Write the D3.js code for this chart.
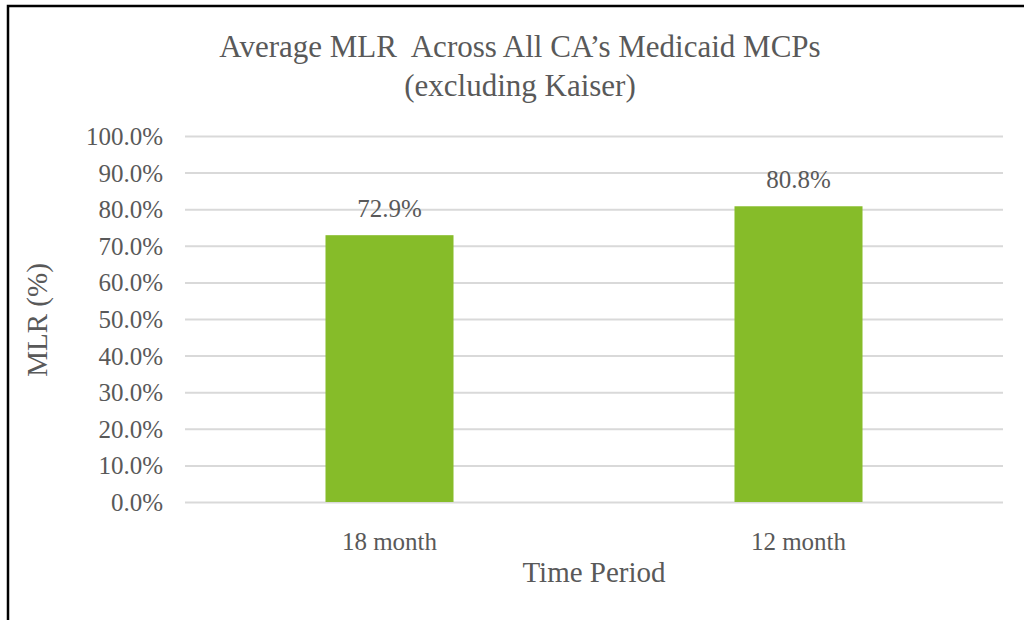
<!DOCTYPE html>
<html>
<head>
<meta charset="utf-8">
<script src="https://cdn.jsdelivr.net/npm/d3@7"></script>
<style>
  body { margin: 0; background: #fff; }
  text { font-family: "Liberation Serif", "Times New Roman", serif; fill: #595959; }
</style>
</head>
<body>
<div id="chart"></div>
<script>
var categories = ['18 month', '12 month']
var mlrValues = [72.9, 80.8]
var yTicks = [0, 10, 20, 30, 40, 50, 60, 70, 80, 90, 100]

var width = 1024,
    height = 620,
    margin = {top: 136, right: 21, bottom: 118, left: 185}

var svg = d3.select('#chart')
  .append('svg')
  .attr('width', width)
  .attr('height', height)

// outer frame (cut at right and bottom like the source)
svg.append('path')
  .attr('d', 'M8,' + height + 'V6H' + width)
  .attr('fill', 'none')
  .attr('stroke', '#000')
  .attr('stroke-width', 2.5)

var xScale = d3.scaleBand()
  .domain(categories)
  .range([margin.left, width - margin.right])
  .padding(0)

var yScale = d3.scaleLinear()
  .domain([0, 100])
  .range([height - margin.bottom, margin.top])

var barWidth = xScale.bandwidth() * 0.313

var yAxis = d3.axisLeft(yScale)
  .tickValues(yTicks)
  .tickSize(-(width - margin.left - margin.right))
  .tickPadding(22)
  .tickFormat(d => d.toFixed(1) + '%')

var gy = svg.append('g')
  .attr('transform', 'translate(' + margin.left + ',0)')
  .call(yAxis)
gy.select('.domain').remove()
gy.selectAll('line').attr('stroke', '#d9d9d9').attr('stroke-width', 2)
gy.selectAll('text')
  .style('font-size', '25px')
  .attr('dy', '0.34em')

svg.selectAll('.bar')
  .data(mlrValues)
  .enter()
  .append('rect')
  .attr('class', 'bar')
  .attr('x', (d, i) => xScale(categories[i]) + xScale.bandwidth() / 2 - barWidth / 2)
  .attr('y', d => yScale(d))
  .attr('width', barWidth)
  .attr('height', d => yScale(0) - yScale(d))
  .attr('fill', '#86bc29')

svg.selectAll('.label')
  .data(mlrValues)
  .enter()
  .append('text')
  .attr('class', 'label')
  .attr('x', (d, i) => xScale(categories[i]) + xScale.bandwidth() / 2)
  .attr('y', d => yScale(d) - 18)
  .attr('text-anchor', 'middle')
  .style('font-size', '25px')
  .text(d => d.toFixed(1) + '%')

var xAxis = d3.axisBottom(xScale).tickSize(0).tickPadding(30)
var gx = svg.append('g')
  .attr('transform', 'translate(0,' + (height - margin.bottom) + ')')
  .call(xAxis)
gx.select('.domain').remove()
gx.selectAll('text').style('font-size', '25px')

svg.append('text')
  .attr('x', 520)
  .attr('y', 57)
  .attr('text-anchor', 'middle')
  .style('font-size', '31px')
  .text('Average MLR\u00a0 Across All CA’s Medicaid MCPs')

svg.append('text')
  .attr('x', 520)
  .attr('y', 96)
  .attr('text-anchor', 'middle')
  .style('font-size', '31px')
  .text('(excluding Kaiser)')

svg.append('text')
  .attr('x', (margin.left + width - margin.right) / 2)
  .attr('y', 582)
  .attr('text-anchor', 'middle')
  .style('font-size', '29px')
  .text('Time Period')

svg.append('text')
  .attr('transform', 'translate(47,' + 320 + ') rotate(-90)')
  .attr('text-anchor', 'middle')
  .style('font-size', '29px')
  .text('MLR (%)')
</script>
</body>
</html>
